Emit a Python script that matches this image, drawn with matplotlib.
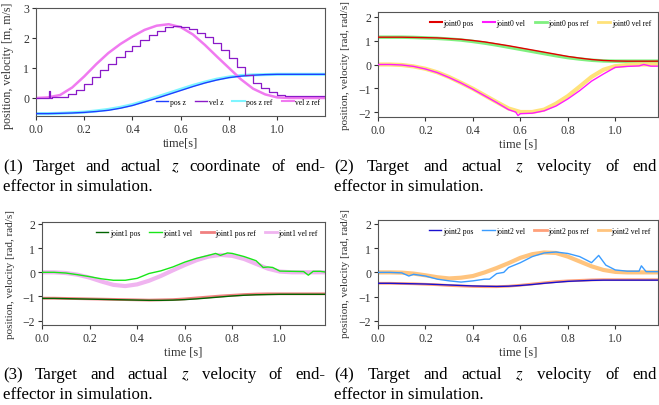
import numpy as np
import matplotlib
matplotlib.use("Agg")
import matplotlib.pyplot as plt
from matplotlib.lines import Line2D

plt.rcParams['font.family'] = ['Liberation Serif', 'DejaVu Serif']
plt.rcParams['mathtext.fontset'] = 'stix'
plt.rcParams['axes.unicode_minus'] = True

# ---------------- data ----------------
t = [0.0, 0.05, 0.1, 0.15, 0.2, 0.25, 0.3, 0.35, 0.4, 0.45, 0.5, 0.55, 0.6,
     0.65, 0.7, 0.75, 0.8, 0.85, 0.9, 0.95, 1.0, 1.05, 1.1, 1.15, 1.2]

# plot 1: end-effector z
pos_z = [-0.52, -0.52, -0.51, -0.50, -0.48, -0.45, -0.41, -0.34, -0.25, -0.13, -0.01, 0.12, 0.25,
         0.38, 0.50, 0.60, 0.68, 0.73, 0.76, 0.78, 0.79, 0.79, 0.79, 0.79, 0.79]
pos_z_ref = [-0.52, -0.52, -0.51, -0.49, -0.47, -0.43, -0.38, -0.31, -0.22, -0.10, 0.03, 0.16, 0.29,
             0.42, 0.53, 0.63, 0.70, 0.75, 0.77, 0.78, 0.79, 0.79, 0.79, 0.79, 0.79]
vel_z_ref = [0.0, 0.02, 0.10, 0.35, 0.72, 1.13, 1.50, 1.80, 2.05, 2.27, 2.41, 2.46, 2.36,
             2.12, 1.77, 1.38, 1.00, 0.62, 0.31, 0.12, 0.02, 0.0, 0.0, 0.0, 0.0]
t_step = [0.0, 0.033, 0.055, 0.06, 0.067, 0.1, 0.133, 0.167, 0.2, 0.233, 0.267, 0.3, 0.333, 0.367,
          0.4, 0.433, 0.467, 0.5, 0.533, 0.567, 0.6, 0.633, 0.667, 0.7, 0.733, 0.767,
          0.8, 0.833, 0.867, 0.9, 0.933, 0.967, 1.0, 1.033, 1.067, 1.1, 1.133, 1.167, 1.2]
vel_z = [0.0, 0.0, 0.22, 0.0, 0.02, 0.05, 0.15, 0.28, 0.48, 0.70, 0.94, 1.15, 1.38, 1.58,
         1.74, 1.95, 2.11, 2.25, 2.37, 2.41, 2.37, 2.30, 2.18, 2.03, 1.84, 1.60,
         1.34, 1.05, 0.78, 0.50, 0.32, 0.20, 0.10, 0.07, 0.07, 0.07, 0.07, 0.07, 0.07]

# plot 2: joint0
j0_pos = [1.15, 1.15, 1.15, 1.14, 1.13, 1.12, 1.09, 1.06, 1.01, 0.95, 0.87, 0.79, 0.70,
          0.61, 0.52, 0.43, 0.34, 0.27, 0.21, 0.17, 0.15, 0.14, 0.14, 0.14, 0.14]
j0_pos_ref = [1.15, 1.15, 1.15, 1.14, 1.12, 1.10, 1.07, 1.03, 0.97, 0.90, 0.82, 0.73, 0.64,
              0.55, 0.46, 0.37, 0.29, 0.23, 0.18, 0.15, 0.14, 0.14, 0.14, 0.14, 0.14]
j0_vel_ref = [0.0, 0.0, -0.02, -0.08, -0.18, -0.33, -0.53, -0.77, -1.02, -1.30, -1.58, -1.85, -2.0,
              -2.0, -1.9, -1.65, -1.33, -0.93, -0.52, -0.22, -0.07, -0.02, 0.0, 0.0, 0.0]
t_j0v = [0.0, 0.05, 0.1, 0.15, 0.2, 0.25, 0.3, 0.35, 0.4, 0.45, 0.5, 0.55, 0.58, 0.59, 0.6,
         0.65, 0.7, 0.75, 0.8, 0.85, 0.9, 0.95, 1.0, 1.05, 1.1, 1.12, 1.15, 1.2]
j0_vel = [0.0, 0.0, -0.02, -0.08, -0.19, -0.34, -0.55, -0.78, -1.04, -1.32, -1.60, -1.90, -2.0, -2.15, -2.07,
          -2.05, -1.95, -1.75, -1.45, -1.10, -0.70, -0.40, -0.12, -0.08, -0.06, 0.0, -0.07, -0.07]

# plot 3: joint1
j1_pos = [-1.08, -1.08, -1.09, -1.10, -1.11, -1.12, -1.13, -1.14, -1.15, -1.16, -1.16, -1.15, -1.13,
          -1.10, -1.06, -1.02, -0.98, -0.95, -0.93, -0.92, -0.91, -0.91, -0.91, -0.91, -0.91]
j1_pos_ref = [-1.07, -1.07, -1.08, -1.09, -1.10, -1.11, -1.12, -1.13, -1.14, -1.15, -1.14, -1.13, -1.10,
              -1.06, -1.02, -0.98, -0.95, -0.92, -0.90, -0.89, -0.89, -0.89, -0.89, -0.89, -0.89]
j1_vel_ref = [0.0, 0.0, -0.03, -0.10, -0.22, -0.38, -0.52, -0.57, -0.50, -0.35, -0.15, 0.08, 0.30,
              0.50, 0.65, 0.72, 0.68, 0.55, 0.35, 0.15, 0.03, 0.0, 0.0, 0.0, 0.0]
t_j1v = [0.0, 0.05, 0.1, 0.15, 0.2, 0.25, 0.3, 0.35, 0.4, 0.45, 0.5, 0.55, 0.6, 0.65, 0.7, 0.73,
         0.75, 0.78, 0.8, 0.85, 0.9, 0.93, 0.95, 0.97, 1.0, 1.05, 1.1, 1.12, 1.14, 1.17, 1.2]
j1_vel = [0.0, 0.0, -0.03, -0.10, -0.18, -0.27, -0.33, -0.33, -0.25, -0.05, 0.06, 0.22, 0.42, 0.58, 0.70, 0.78,
          0.70, 0.80, 0.78, 0.65, 0.48, 0.20, 0.22, 0.20, 0.05, 0.04, 0.03, -0.12, 0.04, 0.04, 0.0]

# plot 4: joint2
j2_pos = [-0.45, -0.45, -0.46, -0.47, -0.48, -0.50, -0.52, -0.54, -0.56, -0.57, -0.58, -0.57, -0.54,
          -0.50, -0.45, -0.41, -0.37, -0.35, -0.33, -0.32, -0.32, -0.32, -0.32, -0.32, -0.32]
j2_pos_ref = [-0.45, -0.45, -0.46, -0.47, -0.49, -0.51, -0.54, -0.56, -0.58, -0.59, -0.59, -0.57, -0.53,
              -0.48, -0.43, -0.38, -0.35, -0.33, -0.31, -0.30, -0.30, -0.30, -0.30, -0.30, -0.30]
j2_vel_ref = [0.0, 0.0, -0.01, -0.05, -0.12, -0.20, -0.25, -0.22, -0.15, 0.0, 0.18, 0.38, 0.60,
              0.75, 0.82, 0.80, 0.65, 0.45, 0.25, 0.10, 0.02, 0.0, 0.0, 0.0, 0.0]
t_j2v = [0.0, 0.05, 0.1, 0.13, 0.15, 0.2, 0.25, 0.3, 0.35, 0.4, 0.45, 0.47, 0.5, 0.53, 0.55, 0.6, 0.65,
         0.7, 0.75, 0.8, 0.85, 0.9, 0.93, 0.96, 1.0, 1.05, 1.1, 1.11, 1.13, 1.2]
j2_vel = [0.0, 0.0, -0.02, -0.15, -0.08, -0.15, -0.28, -0.35, -0.40, -0.35, -0.28, -0.28, -0.05, 0.0, 0.2, 0.4, 0.65,
          0.80, 0.84, 0.78, 0.65, 0.40, 0.70, 0.30, 0.10, 0.05, 0.05, 0.27, 0.03, 0.03]

captions = [
    ["(1) Target and actual $z$ coordinate of end-", "effector in simulation."],
    ["(2) Target and actual $z$ velocity of end", "effector in simulation."],
    ["(3) Target and actual $z$ velocity of end-", "effector in simulation."],
    ["(4) Target and actual $z$ velocity of end", "effector in simulation."],
]

# ---------------- figure ----------------
W, H = 659, 406
fig = plt.figure(figsize=(W / 100, H / 100), dpi=100)


def add_ax(l, r, top, bot):
    return fig.add_axes([l / W, 1 - bot / H, (r - l) / W, (bot - top) / H])


ax1 = add_ax(36, 325, 9, 117)
ax2 = add_ax(378, 658, 13, 118)
ax3 = add_ax(42, 325, 223, 326)
ax4 = add_ax(378, 658, 221, 326)

leg_kw = dict(ncol=4, fontsize=5.5, frameon=False, handlelength=1.6, handletextpad=0.2,
              columnspacing=1.2)

# plot 1
ax1.plot(t, pos_z_ref, color='#7ff5ff', lw=2.2, zorder=2)
ax1.plot(t, vel_z_ref, color='#f07af0', lw=1.8, zorder=2)
ax1.plot(t, pos_z, color='#1f3fff', lw=1.0, zorder=3)
ax1.plot(t_step, vel_z, color='#8a1ac8', lw=0.9, drawstyle='steps-post', zorder=3)
ax1.set_xlim(0, 1.198)
ax1.set_ylim(-0.6, 3.0)
ax1.set_yticks([0, 1, 2, 3])
ax1.set_xlabel('time[s]', fontsize=9, labelpad=1)
ax1.set_ylabel('position, velocity [m, m/s]', fontsize=8.6)
ax1.yaxis.set_label_coords(-0.076, 0.47)
h1 = [Line2D([], [], color='#1f3fff', lw=1), Line2D([], [], color='#8a1ac8', lw=1),
      Line2D([], [], color='#7ff5ff', lw=1.5), Line2D([], [], color='#f07af0', lw=1.5)]
ax1.legend(h1, ['pos z', 'vel z', 'pos z ref', 'vel z ref'], loc='lower right',
           bbox_to_anchor=(1.0, 0.05), borderaxespad=0.2, **leg_kw)

# plot 2
ax2.plot(t, j0_pos_ref, color='#7ff07f', lw=2.5, zorder=2)
ax2.plot(t, j0_vel_ref, color='#ffe27a', lw=3.0, zorder=2)
ax2.plot(t, j0_pos, color='#e00000', lw=1.0, zorder=3)
ax2.plot(t_j0v, j0_vel, color='#ff1aff', lw=1.0, zorder=3)
ax2.set_xlim(0, 1.18)
ax2.set_ylim(-2.21, 2.21)
ax2.set_xlabel('time [s]', fontsize=9, labelpad=1)
ax2.set_ylabel('position, velocity [rad, rad/s]', fontsize=8)
ax2.yaxis.set_label_coords(-0.1, 0.5)
h2 = [Line2D([], [], color='#e00000', lw=1.5), Line2D([], [], color='#ff1aff', lw=1.5),
      Line2D([], [], color='#7ff07f', lw=2), Line2D([], [], color='#ffe27a', lw=2)]
ax2.legend(h2, ['joint0 pos', 'joint0 vel', 'joint0 pos ref', 'joint0 vel ref'], loc='upper right',
           borderaxespad=0.5, **leg_kw)

# plot 3
ax3.plot(t, j1_pos_ref, color='#f08080', lw=2.0, zorder=2)
ax3.plot(t, j1_vel_ref, color='#f0b4f0', lw=3.0, zorder=2)
ax3.plot(t, j1_pos, color='#006400', lw=1.0, zorder=3)
ax3.plot(t_j1v, j1_vel, color='#19e619', lw=1.0, zorder=3)
ax3.set_xlim(0, 1.19)
ax3.set_ylim(-2.18, 2.08)
ax3.set_xlabel('time [s]', fontsize=9, labelpad=1)
ax3.set_ylabel('position, velocity [rad, rad/s]', fontsize=8)
ax3.yaxis.set_label_coords(-0.095, 0.5)
h3 = [Line2D([], [], color='#006400', lw=1), Line2D([], [], color='#19e619', lw=1),
      Line2D([], [], color='#f08080', lw=2), Line2D([], [], color='#f0b4f0', lw=2)]
ax3.legend(h3, ['joint1 pos', 'joint1 vel', 'joint1 pos ref', 'joint1 vel ref'], loc='upper right',
           borderaxespad=0.5, **leg_kw)

# plot 4
ax4.plot(t, j2_pos_ref, color='#ffa07a', lw=2.0, zorder=2)
ax4.plot(t, j2_vel_ref, color='#ffc47e', lw=3.0, zorder=2)
ax4.plot(t, j2_pos, color='#1a10d0', lw=1.0, zorder=3)
ax4.plot(t_j2v, j2_vel, color='#3a9cff', lw=1.0, zorder=3)
ax4.set_xlim(0, 1.18)
ax4.set_ylim(-2.17, 2.16)
ax4.set_xlabel('time [s]', fontsize=9, labelpad=1)
ax4.set_ylabel('position, velocity [rad, rad/s]', fontsize=8)
ax4.yaxis.set_label_coords(-0.1, 0.5)
h4 = [Line2D([], [], color='#1a10d0', lw=1), Line2D([], [], color='#3a9cff', lw=1),
      Line2D([], [], color='#ffa07a', lw=2), Line2D([], [], color='#ffc47e', lw=2)]
ax4.legend(h4, ['joint2 pos', 'joint2 vel', 'joint2 pos ref', 'joint2 vel ref'], loc='upper right',
           borderaxespad=0.5, **leg_kw)

for ax in (ax1, ax2, ax3, ax4):
    ax.set_xticks([0.0, 0.2, 0.4, 0.6, 0.8, 1.0])
    ax.xaxis.set_major_formatter(matplotlib.ticker.FormatStrFormatter('%.1f'))
    ax.tick_params(labelsize=8.5, length=3, width=0.8, pad=2, colors='#333333')
    for s in ax.spines.values():
        s.set_color('#555555')
        s.set_linewidth(0.8)
    ax.xaxis.label.set_color('#333333')
    ax.yaxis.label.set_color('#333333')
for ax in (ax2, ax3, ax4):
    ax.set_yticks([-2, -1, 0, 1, 2])

# captions (justified first line)
fig.canvas.draw()
renderer = fig.canvas.get_renderer()
fs = 12.2


def justified(line, x0, x1, y):
    words = line.split(' ')
    texts = [fig.text(0, 0, w, fontsize=fs, va='baseline', transform=None) for w in words]
    widths = [tx.get_window_extent(renderer).width for tx in texts]
    gap = (x1 - x0 - sum(widths)) / (len(words) - 1)
    x = x0
    for tx, w in zip(texts, widths):
        tx.set_position((x, H - y))
        x += w + gap


def plain(line, x0, y):
    fig.text(x0, H - y, line, fontsize=fs, va='baseline', transform=None)


pos_caps = [(3, 325, 171, 191), (334, 657, 171, 191), (3, 325, 379, 399), (334, 657, 379, 399)]
for (l1, l2), (x0, x1, y1, y2) in zip(captions, pos_caps):
    justified(l1, x0, x1, y1)
    plain(l2, x0, y2)

fig.savefig('out.png', dpi=100)
